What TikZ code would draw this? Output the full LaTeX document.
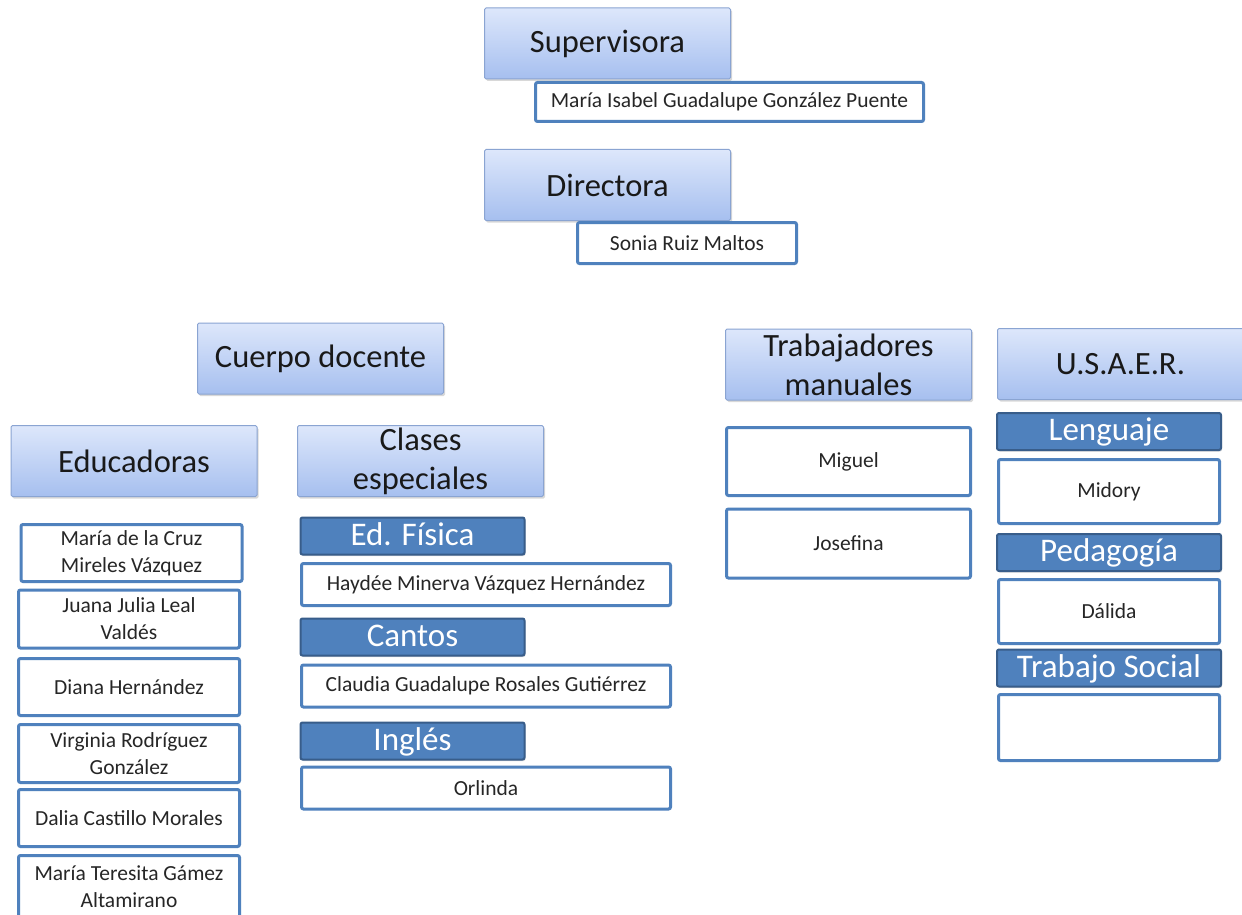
\documentclass[tikz,border=0pt]{standalone}
\usepackage{fontspec}
\setmainfont{Carlito}
\usetikzlibrary{shadows}

\definecolor{cargotop}{HTML}{DDE7FB}
\definecolor{cargobot}{HTML}{A6BFEF}
\definecolor{cargoline}{HTML}{8AA4D2}
\definecolor{areafill}{HTML}{4F81BD}
\definecolor{arealine}{HTML}{385D8A}
\definecolor{nameline}{HTML}{4F81BD}

\tikzset{
    cargo/.style={draw=cargoline, line width=1pt, top color=cargotop, bottom color=cargobot,
        rounded corners=1.5pt, minimum width=246pt, minimum height=71pt, inner sep=0pt,
        align=center, text=black!90, font=\fontsize{32.5}{39}\selectfont,
        drop shadow={shadow xshift=1.5pt, shadow yshift=-2pt, opacity=0.3}},
    area/.style={draw=arealine, line width=2pt, fill=areafill, rounded corners=2pt,
        minimum width=224pt, minimum height=37pt, inner sep=0pt, text=white,
        text height=24pt, text depth=6pt, font=\fontsize{33}{39}\selectfont,
        drop shadow={shadow xshift=1pt, shadow yshift=-1.5pt, opacity=0.3}},
    persona/.style={draw=nameline, line width=3pt, fill=white, rounded corners=2pt,
        inner sep=0pt, align=center, text=black!85, font=\fontsize{21.5}{27}\selectfont}
}

\begin{document}
\begin{tikzpicture}[x=1pt, y=-1pt]
        \fill[white] (0,0) rectangle (1242,915);
        \useasboundingbox (0,0) rectangle (1242,915);

        \node[cargo] (sup) at (607.5,43.5) {Supervisora};
        \node[persona, minimum width=388pt, minimum height=39pt] (supname) at (729.5,102) {María Isabel Guadalupe González Puente};
        \node[cargo] (dir) at (607.5,185) {Directora};
        \node[persona, minimum width=219pt, minimum height=41pt] (dirname) at (687,243) {Sonia Ruiz Maltos};

        \node[cargo] (cuerpo) at (320.5,358.5) {Cuerpo docente};
        \node[cargo] (educ) at (134,461) {Educadoras};
        \node[cargo] (clases) at (420.5,461) {Clases\\especiales};
        \node[cargo] (trab) at (848.5,364.5) {Trabajadores\\manuales};
        \node[cargo] (usaer) at (1120.5,364) {U.S.A.E.R.};

        \node[persona, minimum width=221pt, minimum height=57pt] (cruz) at (131.5,553) {María de la Cruz\\Mireles Vázquez};
        \node[persona, minimum width=221pt, minimum height=58pt] (juana) at (129,619) {Juana Julia Leal\\Valdés};
        \node[persona, minimum width=221pt, minimum height=57pt] (diana) at (129,687) {Diana Hernández};
        \node[persona, minimum width=221pt, minimum height=58pt] (virginia) at (129,753.5) {Virginia Rodríguez\\González};
        \node[persona, minimum width=221pt, minimum height=57pt] (dalia) at (129,818) {Dalia Castillo Morales};
        \node[persona, minimum width=221pt, minimum height=63pt] (teresita) at (129,887) {María Teresita Gámez\\Altamirano};

        \node[area] (fisica) at (412.5,536) {Ed. Física};
        \node[persona, minimum width=369pt, minimum height=42pt] (haydee) at (486,584.5) {Haydée Minerva Vázquez Hernández};
        \node[area] (cantos) at (412.5,637) {Cantos};
        \node[persona, minimum width=369pt, minimum height=42pt] (claudia) at (486,686) {Claudia Guadalupe Rosales Gutiérrez};
        \node[area] (ingles) at (412.5,741) {Inglés};
        \node[persona, minimum width=369pt, minimum height=42pt] (orlinda) at (486,788) {Orlinda};

        \node[persona, minimum width=244pt, minimum height=68pt] (miguel) at (848.5,461.5) {Miguel};
        \node[persona, minimum width=244pt, minimum height=69pt] (josefina) at (848.5,543.5) {Josefina};

        \node[area] (lenguaje) at (1109,431.5) {Lenguaje};
        \node[persona, minimum width=221pt, minimum height=64pt] (midory) at (1109,491.5) {Midory};
        \node[area] (pedagogia) at (1109,552.5) {Pedagogía};
        \node[persona, minimum width=221pt, minimum height=64pt] (dalida) at (1109,611.5) {Dálida};
        \node[area] (social) at (1109,668) {Trabajo Social};
        \node[persona, minimum width=221pt, minimum height=66pt] (vacio) at (1109,727.5) {};
    \end{tikzpicture}
\end{document}
